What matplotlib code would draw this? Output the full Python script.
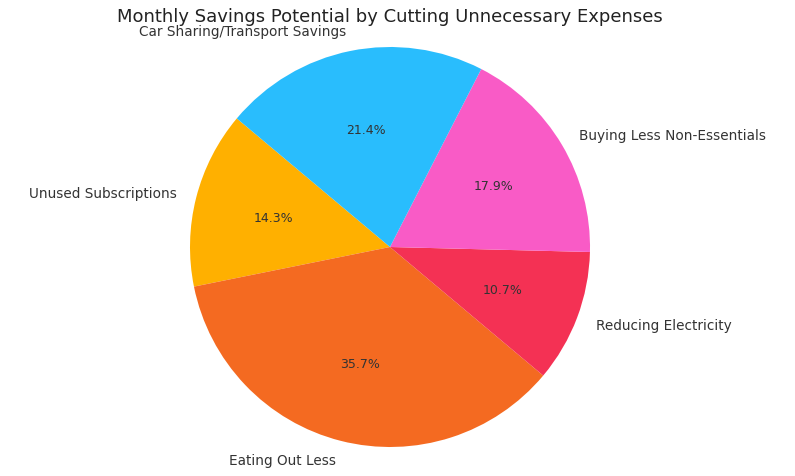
import matplotlib.pyplot as plt

# slice data (starts at Unused Subscriptions, counter-clockwise)
categories = ["Unused Subscriptions", "Eating Out Less", "Reducing Electricity",
              "Buying Less Non-Essentials", "Car Sharing/Transport Savings"]
savings = [40, 100, 30, 50, 60]
colors = ["#FFB000", "#F46A21", "#F43154", "#F95BC6", "#29BDFD"]

fig = plt.figure(figsize=(7.95, 4.77), dpi=100)
# axes placed so the pie centre sits at (390, 248) px with a 200 px radius
ax = fig.add_axes([140 / 795, (477 - 248 - 250) / 477, 500 / 795, 500 / 477])

wedges, texts, autotexts = ax.pie(
    savings, labels=categories, colors=colors, autopct="%1.1f%%",
    startangle=140, labeldistance=1.1, pctdistance=0.6,
    textprops={"color": "#333333", "fontsize": 9.8})
for t in autotexts:
    t.set_fontsize(9)

ax.set_xlim(-1.25, 1.25)
ax.set_ylim(-1.25, 1.25)
ax.set_aspect("equal")
ax.axis("off")

fig.text(390 / 795, 1 - 17 / 477, "Monthly Savings Potential by Cutting Unnecessary Expenses",
         ha="center", va="center", fontsize=13, color="#222222")

fig.savefig("out.png", dpi=100)
